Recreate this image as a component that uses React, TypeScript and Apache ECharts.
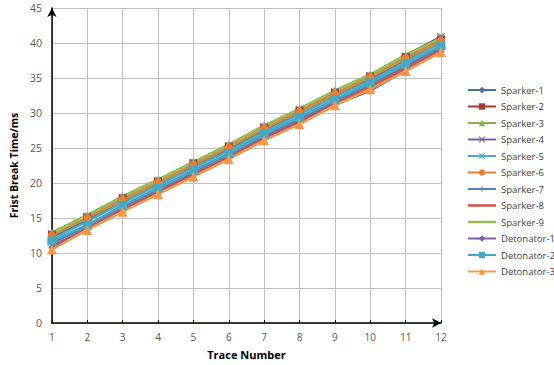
import React, { useEffect, useRef } from "react";
import * as echarts from "echarts";

const traces = ["1", "2", "3", "4", "5", "6", "7", "8", "9", "10", "11", "12"];
const yTicks = [0, 5, 10, 15, 20, 25, 30, 35, 40, 45];

const sparker1 = [12.2, 14.7, 17.4, 19.9, 22.4, 24.8, 27.6, 30.0, 32.5, 34.9, 37.6, 40.2];
const sparker2 = [12.6, 15.1, 17.8, 20.2, 22.8, 25.2, 27.9, 30.3, 32.9, 35.2, 38.0, 40.5];
const sparker3 = [12.9, 15.4, 18.1, 20.5, 23.0, 25.5, 28.2, 30.6, 33.2, 35.5, 38.3, 40.8];
const sparker4 = [12.7, 15.2, 17.9, 20.3, 22.9, 25.3, 28.0, 30.5, 33.0, 35.3, 38.1, 40.9];
const sparker5 = [12.0, 14.5, 17.2, 19.7, 22.2, 24.6, 27.3, 29.8, 32.3, 34.6, 37.3, 40.0];
const sparker6 = [12.5, 15.0, 17.6, 20.1, 22.6, 25.1, 27.8, 30.2, 32.7, 35.1, 37.8, 40.3];
const sparker7 = [11.4, 13.8, 16.5, 19.0, 21.5, 24.0, 26.7, 29.1, 31.6, 34.0, 36.7, 39.3];
const sparker8 = [11.0, 13.5, 16.2, 18.7, 21.2, 23.7, 26.4, 28.8, 31.3, 33.7, 36.4, 39.0];
const sparker9 = [12.8, 15.3, 18.0, 20.4, 22.9, 25.4, 28.1, 30.6, 33.1, 35.4, 38.2, 40.7];
const detonator1 = [10.8, 13.4, 16.0, 18.5, 21.0, 23.5, 26.2, 28.6, 31.2, 33.2, 36.1, 38.8];
const detonator2 = [11.7, 14.0, 16.8, 19.3, 21.8, 24.2, 27.0, 29.4, 31.9, 34.3, 37.0, 39.6];
const detonator3 = [10.5, 13.3, 15.9, 18.4, 20.9, 23.4, 26.1, 28.4, 31.1, 33.4, 36.0, 38.7];

const seriesNames = [
  "Sparker-1", "Sparker-2", "Sparker-3", "Sparker-4", "Sparker-5", "Sparker-6",
  "Sparker-7", "Sparker-8", "Sparker-9", "Detonator-1", "Detonator-2", "Detonator-3",
];
const seriesData = [
  sparker1, sparker2, sparker3, sparker4, sparker5, sparker6,
  sparker7, sparker8, sparker9, detonator1, detonator2, detonator3,
];
const colors = [
  "#4472A8", "#A83A36", "#8DB04F", "#7A5F9E", "#4BACC6", "#E8812F",
  "#4F81BD", "#D0504D", "#9BBB59", "#7E5FA3", "#45A8C4", "#F79646",
];

const X_SYM = "path://M0,1 L1,0 L5,4 L9,0 L10,1 L6,5 L10,9 L9,10 L5,6 L1,10 L0,9 L4,5 Z";
const PLUS_SYM = "path://M4.4,0 L5.6,0 L5.6,4.4 L10,4.4 L10,5.6 L5.6,5.6 L5.6,10 L4.4,10 L4.4,5.6 L0,5.6 L0,4.4 L4.4,4.4 Z";
const AST_SYM = "path://M0,1 L1,0 L5,4 L9,0 L10,1 L6,5 L10,9 L9,10 L5,6 L1,10 L0,9 L4,5 Z M4.5,0 L5.5,0 L5.5,10 L4.5,10 Z";
const LINE_ICON = "path://M0,0 L28,0 L28,2.5 L0,2.5 Z";

const symbols = [
  "diamond", "rect", "triangle", X_SYM, AST_SYM, "circle",
  PLUS_SYM, "none", "none", "diamond", "rect", "triangle",
];
const symbolSizes = [7, 8, 8, 8, 8, 8, 9, 0, 0, 7, 9, 10];

export default function App() {
  const ref = useRef<HTMLDivElement>(null);
  useEffect(() => {
    if (!ref.current) return;
    const chart = echarts.init(ref.current, undefined, { renderer: "svg" });
    chart.setOption({
      animation: false,
      backgroundColor: "#ffffff",
      textStyle: { fontFamily: "Open Sans" },
      grid: { left: 42, right: 113, top: 8, bottom: 40, containLabel: false },
      legend: {
        orient: "vertical",
        left: 462,
        top: 80,
        itemWidth: 28,
        itemHeight: 8,
        itemGap: 6.5,
        textStyle: { fontSize: 9.5, color: "#404040", fontFamily: "Open Sans" },
        data: seriesNames.map((n, i) =>
          symbols[i] === "none"
            ? { name: n, icon: LINE_ICON, itemStyle: { color: colors[i], borderWidth: 0 } }
            : { name: n }
        ),
      },
      xAxis: {
        type: "category",
        data: traces,
        boundaryGap: false,
        name: "Trace Number",
        nameLocation: "middle",
        nameGap: 26,
        nameTextStyle: { fontSize: 11, fontWeight: "bold", color: "#000", fontFamily: "Open Sans" },
        axisLine: {
          show: true,
          lineStyle: { color: "#000", width: 1.5 },
          symbol: ["none", "arrow"],
          symbolSize: [7, 9],
        },
        axisTick: { show: true, inside: true, length: 3, lineStyle: { color: "#000" } },
        axisLabel: { fontSize: 10, color: "#595959", margin: 9 },
        splitLine: { show: true, lineStyle: { color: "#BFBFBF", width: 1 } },
      },
      yAxis: {
        type: "value",
        min: 0,
        max: 45,
        interval: 5,
        name: "Frist Break Time/ms",
        nameLocation: "middle",
        nameGap: 31,
        nameTextStyle: { fontSize: 10.5, fontWeight: "bold", color: "#000", fontFamily: "Open Sans" },
        axisLine: {
          show: true,
          lineStyle: { color: "#000", width: 1.5 },
          symbol: ["none", "arrow"],
          symbolSize: [7, 9],
        },
        axisTick: { show: false },
        axisLabel: {
          fontSize: 10.5,
          color: "#595959",
          margin: 10,
          formatter: (v: number) => (yTicks.includes(v) ? String(v) : ""),
        },
        splitLine: { show: true, lineStyle: { color: "#BFBFBF", width: 1 } },
      },
      series: seriesNames.map((name, i) => ({
        name,
        type: "line",
        data: seriesData[i],
        symbol: symbols[i],
        symbolSize: symbolSizes[i],
        showSymbol: symbols[i] !== "none",
        lineStyle: { color: colors[i], width: 2.5 },
        itemStyle: { color: colors[i] },
        z: i === 11 || i === 10 ? 5 : 2,
      })),
    });
    return () => chart.dispose();
  }, []);
  return <div ref={ref} style={{ width: 554, height: 365, position: "absolute", left: 0, top: 0 }} />;
}
